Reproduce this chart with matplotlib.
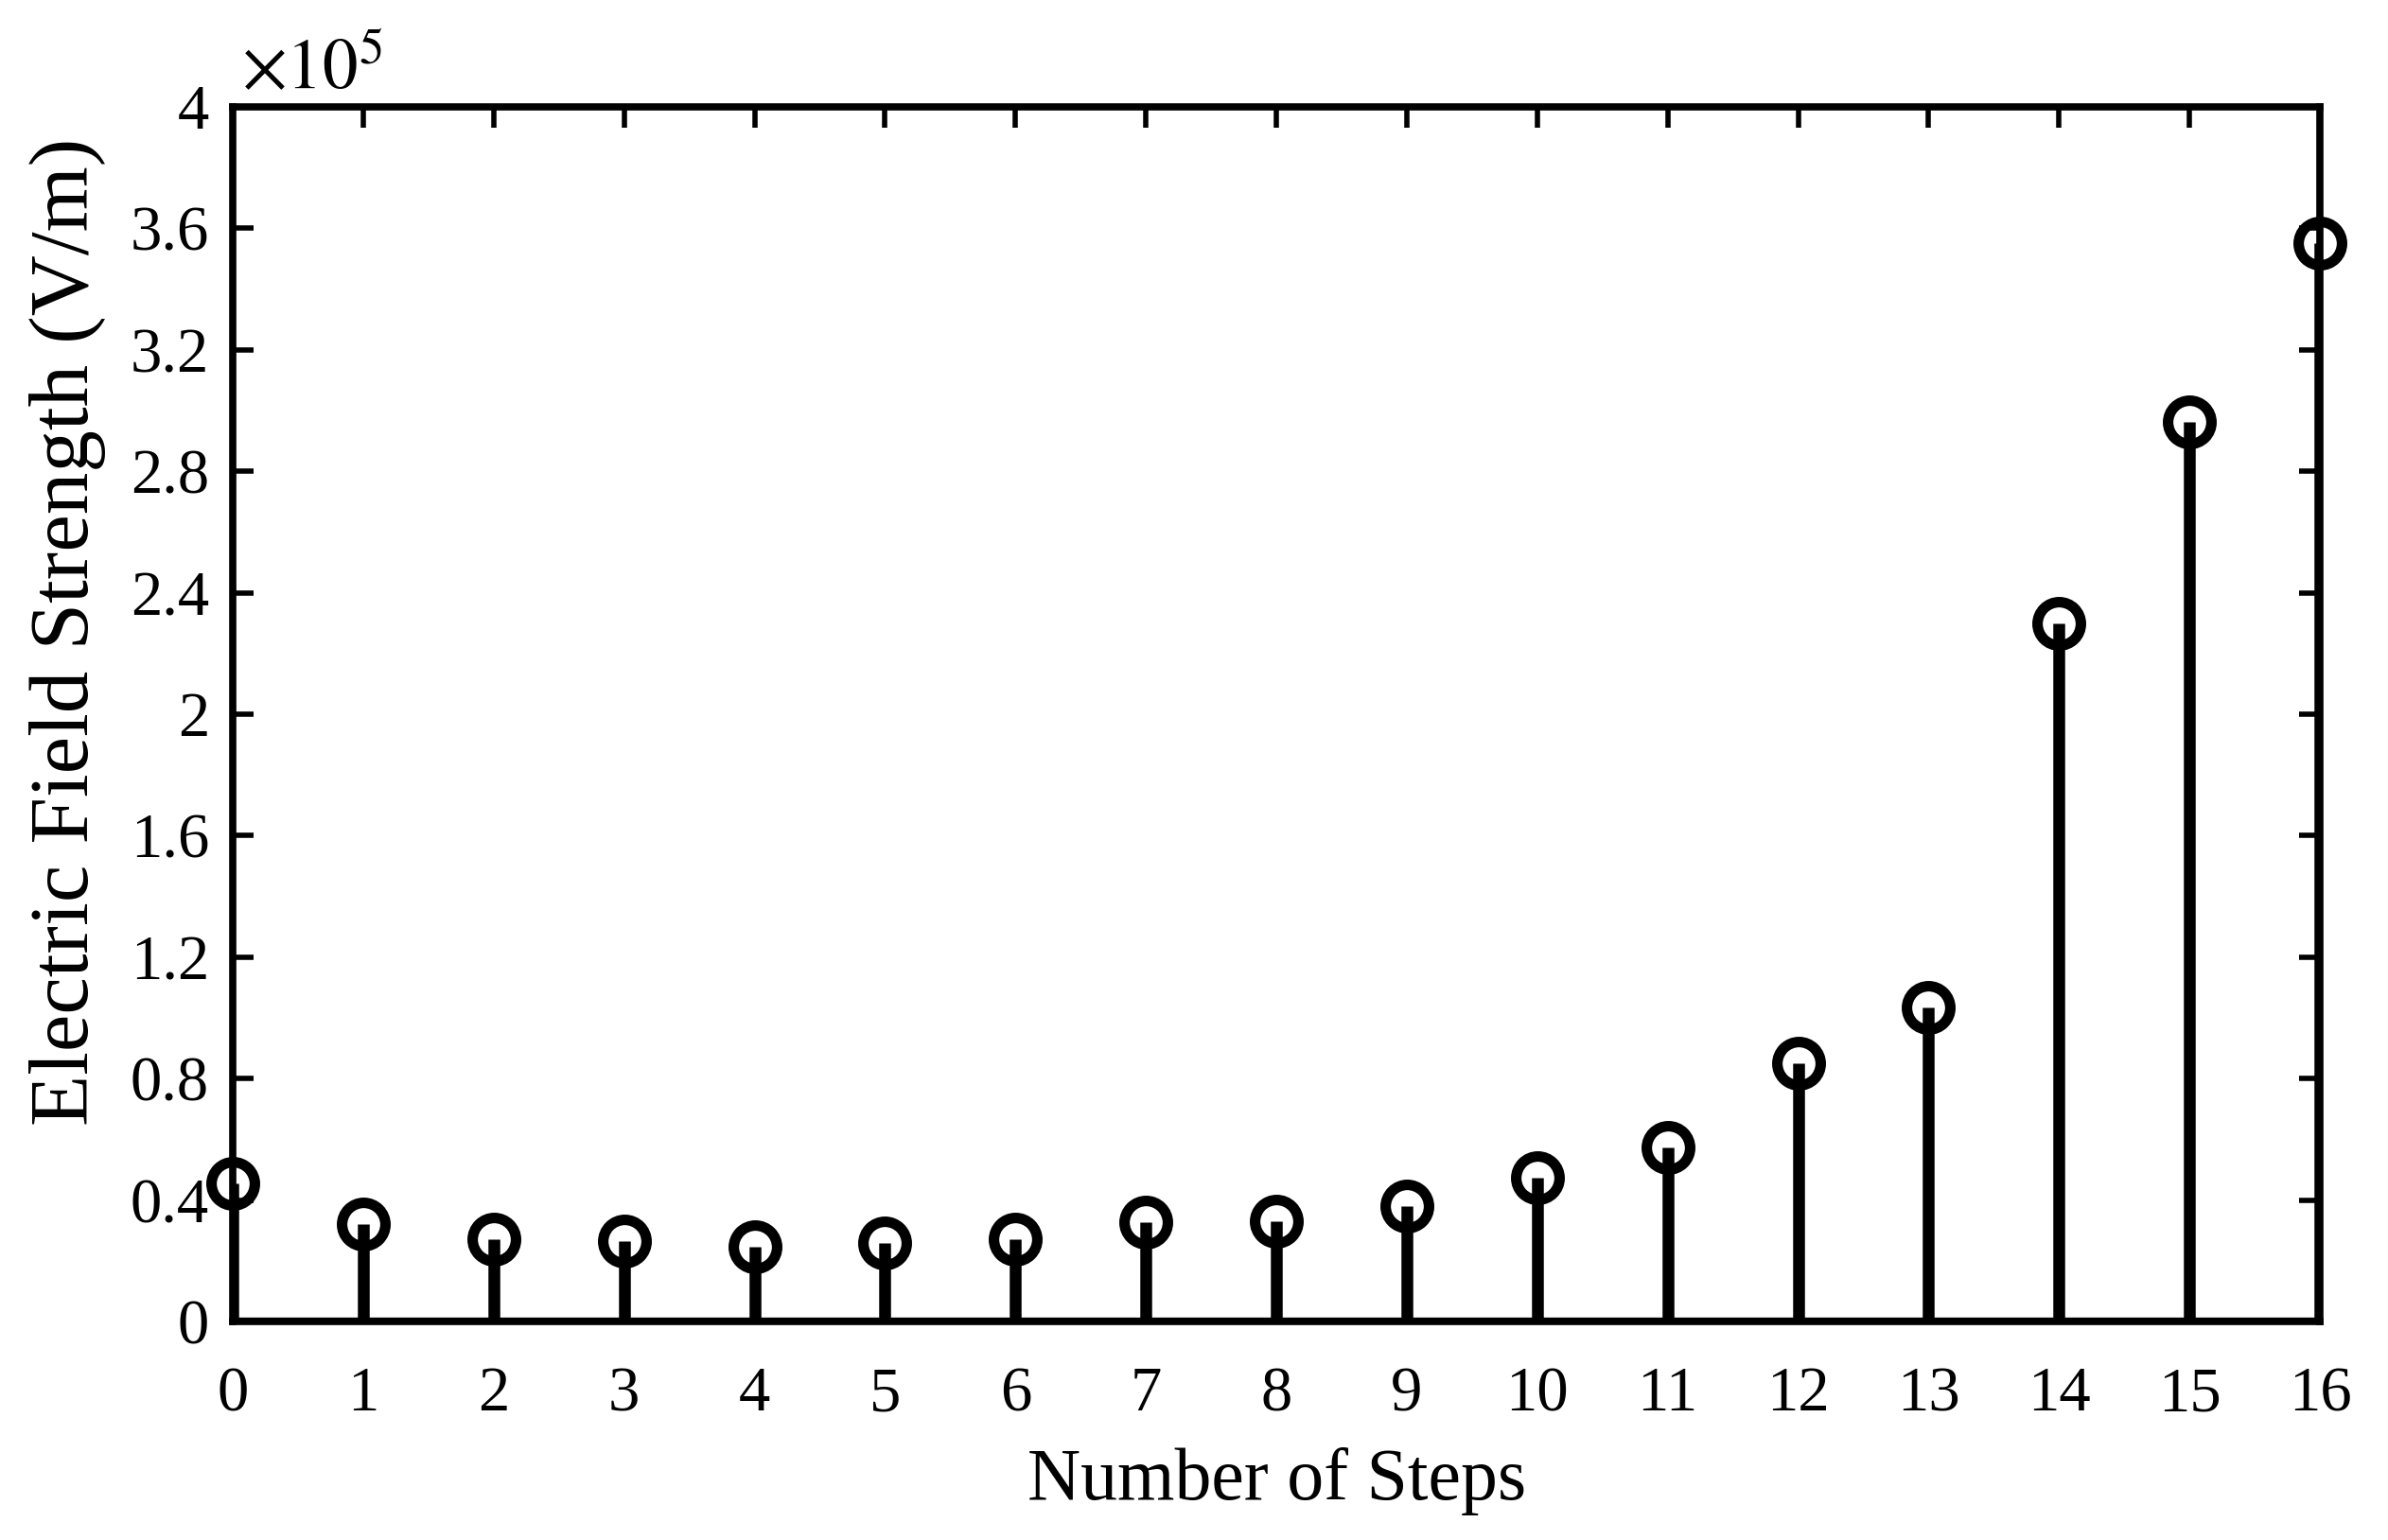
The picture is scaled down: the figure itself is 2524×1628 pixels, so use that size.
import numpy as np
import matplotlib
matplotlib.use('Agg')
import matplotlib.pyplot as plt
from matplotlib.ticker import FuncFormatter

# Data (values in units of 1e5 V/m)
steps = np.arange(0, 17)
field = [0.455, 0.320, 0.270, 0.265, 0.245, 0.257, 0.270, 0.327, 0.330,
         0.381, 0.472, 0.574, 0.849, 1.035, 2.300, 2.963, 3.550]
scale = 1e5
y_ticks = [0, 0.4, 0.8, 1.2, 1.6, 2.0, 2.4, 2.8, 3.2, 3.6, 4.0]

plt.rcParams['font.family'] = ['Liberation Serif', 'DejaVu Serif']
plt.rcParams['mathtext.fontset'] = 'stix'

fig = plt.figure(figsize=(25.24, 16.28), dpi=100)
ax = fig.add_axes([0.0975, 0.1419, 0.874, 0.7887])

values = np.array(field) * scale
markerline, stemlines, baseline = ax.stem(steps, values, linefmt='k-', markerfmt='ko', basefmt='k-')
plt.setp(stemlines, linewidth=9)
plt.setp(markerline, markersize=33, markerfacecolor='none', markeredgecolor='k',
         markeredgewidth=8, clip_on=False, zorder=5)
plt.setp(baseline, linewidth=6)

ax.set_xlim(0, 16)
ax.set_ylim(0, 4 * scale)
ax.set_xticks(steps)
ax.set_yticks([t * scale for t in y_ticks])
ax.yaxis.set_major_formatter(FuncFormatter(lambda v, p: f'{v / scale:g}'))

for s in ax.spines.values():
    s.set_linewidth(5.5)
ax.tick_params(direction='in', length=16, width=4, top=True, right=True,
               labelsize=48)
ax.tick_params(axis='x', pad=34)
ax.tick_params(axis='y', pad=18)

ax.set_xlabel('Number of Steps', fontsize=56, labelpad=18)
ax.set_ylabel('Electric Field Strength (V/m)', fontsize=64)
ax.yaxis.set_label_coords(-0.061, 0.568)

ax.text(0.004, 1.002, r'$\times10^{5}$', transform=ax.transAxes,
        fontsize=54, ha='left', va='bottom')

fig.savefig('out.png', dpi=100)
